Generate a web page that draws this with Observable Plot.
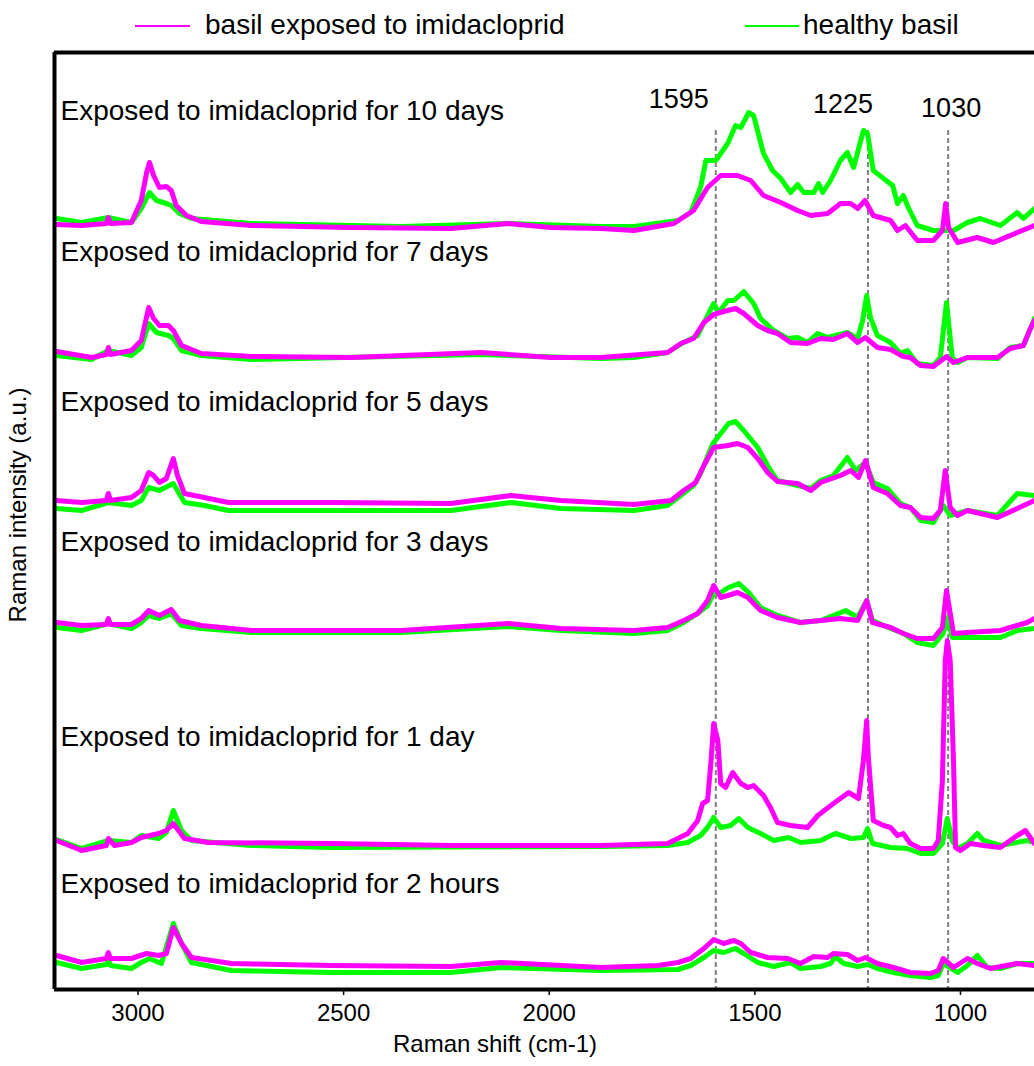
<!DOCTYPE html>
<html>
<head>
<meta charset="utf-8">
<script src="https://cdn.jsdelivr.net/npm/d3@7"></script>
<script src="https://cdn.jsdelivr.net/npm/@observablehq/plot@0.6"></script>
<style>
  html, body { margin: 0; padding: 0; background: #fff; }
  #page { position: relative; width: 1034px; height: 1066px; overflow: hidden; font-family: "Liberation Sans", Arial, sans-serif; }
  #legend { position: absolute; left: 0; top: 0; width: 1034px; height: 46px; }
  .lg-line { position: absolute; height: 2px; top: 25px; }
  .lg-text { position: absolute; top: 11px; font-size: 28px; line-height: 28px; color: #000; white-space: nowrap; }
  #chart { position: absolute; left: 0; top: 46px; }
  #xtitle { position: absolute; left: 0; width: 990px; top: 1032px; text-align: center; font-size: 24px; line-height: 24px; }
</style>
</head>
<body>
<div id="page">
  <div id="legend"></div>
  <div id="chart"></div>
  <div id="xtitle"></div>
</div>
<script>
// ---------- data ----------
const seriesNames = ["basil exposed to imidacloprid", "healthy basil"];
const seriesColors = ["#ff00ff", "#00ff00"];
const panelLabels = [
  "Exposed to imidacloprid for 10 days",
  "Exposed to imidacloprid for 7 days",
  "Exposed to imidacloprid for 5 days",
  "Exposed to imidacloprid for 3 days",
  "Exposed to imidacloprid for 1 day",
  "Exposed to imidacloprid for 2 hours"
];
const labelLevel = [878, 737, 587, 447, 252, 105];
const peaks = [1595, 1225, 1030];
const xTicks = [3000, 2500, 2000, 1500, 1000];
const xTitle = "Raman shift (cm-1)";
const yTitle = "Raman intensity (a.u.)";

// [Raman shift (cm-1), intensity (a.u., stacked)]
const exposed10 = [[3198,765],[3137,764],[3077,766],[3072,772],[3067,766],[3016,767],[2992,789],[2979,817],[2972,827],[2962,814],[2948,802],[2931,803],[2919,799],[2907,784],[2882,774],[2846,768],[2724,764],[2482,762],[2239,761],[2100,766],[1996,762],[1874,761],[1794,759],[1697,766],[1649,779],[1615,802],[1583,814],[1542,814],[1510,809],[1479,794],[1437,787],[1396,779],[1364,774],[1323,776],[1292,786],[1267,786],[1250,781],[1232,789],[1212,774],[1170,769],[1153,759],[1134,764],[1105,749],[1066,749],[1044,759],[1036,786],[1029,762],[1007,747],[959,752],[920,747],[862,757],[820,764]];
const healthy10 = [[3198,771],[3137,767],[3072,772],[3016,767],[2992,781],[2972,797],[2955,789],[2931,786],[2919,784],[2899,776],[2870,771],[2724,766],[2360,763],[2100,766],[1874,763],[1794,763],[1687,769],[1656,777],[1632,802],[1619,829],[1595,829],[1566,846],[1547,864],[1534,862],[1515,877],[1503,874],[1479,836],[1457,819],[1437,811],[1413,797],[1396,805],[1381,797],[1357,797],[1345,806],[1335,797],[1316,809],[1292,829],[1275,837],[1260,822],[1236,859],[1226,856],[1212,819],[1187,811],[1165,804],[1153,786],[1139,794],[1127,782],[1105,764],[1066,759],[1017,759],[983,767],[952,771],[903,764],[862,777],[847,771],[820,781]];

const exposed7 = [[3198,638],[3113,632],[3077,635],[3072,642],[3067,635],[3016,639],[2992,649],[2974,682],[2962,671],[2948,664],[2926,664],[2914,659],[2894,644],[2846,636],[2724,633],[2482,632],[2166,637],[1996,632],[1874,632],[1712,637],[1680,646],[1649,651],[1624,667],[1600,675],[1576,678],[1547,681],[1527,676],[1493,664],[1469,659],[1445,656],[1413,647],[1372,646],[1340,651],[1309,650],[1275,656],[1250,647],[1231,652],[1202,642],[1170,640],[1139,633],[1122,632],[1097,624],[1066,623],[1034,633],[1017,627],[983,632],[910,632],[879,641],[847,644],[830,661],[820,669]];
const healthy7 = [[3198,634],[3113,630],[3072,639],[3016,634],[2992,642],[2974,666],[2955,657],[2926,654],[2914,651],[2894,639],[2846,634],[2724,630],[2166,635],[1874,631],[1794,632],[1712,637],[1673,647],[1639,654],[1615,674],[1600,686],[1588,677],[1566,689],[1551,689],[1527,698],[1503,686],[1486,671],[1454,659],[1420,651],[1396,652],[1372,647],[1347,656],[1323,652],[1275,657],[1250,651],[1238,669],[1228,694],[1219,672],[1202,654],[1170,647],[1146,636],[1129,639],[1105,626],[1066,624],[1049,632],[1034,687],[1020,632],[1007,627],[983,632],[910,631],[879,642],[847,644],[830,661],[820,671]];

const exposed5 = [[3198,489],[3137,487],[3077,489],[3072,496],[3067,489],[3016,492],[2992,499],[2974,517],[2962,514],[2948,507],[2931,511],[2914,531],[2904,514],[2887,496],[2839,492],[2780,487],[2530,487],[2239,486],[2093,494],[1972,489],[1794,485],[1704,489],[1673,499],[1644,507],[1624,524],[1600,542],[1566,544],[1542,546],[1517,542],[1493,531],[1469,517],[1445,508],[1396,506],[1364,499],[1340,507],[1292,514],[1267,519],[1248,512],[1231,529],[1212,502],[1178,496],[1146,484],[1122,482],[1097,472],[1066,471],[1049,479],[1037,519],[1025,482],[1007,474],[983,479],[910,472],[862,481],[820,489]];
const healthy5 = [[3198,481],[3137,479],[3072,487],[3016,484],[2992,489],[2974,502],[2948,499],[2914,506],[2887,487],[2839,484],[2780,479],[2530,479],[2239,479],[2093,487],[1972,481],[1794,479],[1712,484],[1680,494],[1649,504],[1632,516],[1602,546],[1583,556],[1564,566],[1547,568],[1527,559],[1493,542],[1469,524],[1445,509],[1396,504],[1364,501],[1340,509],[1309,514],[1275,532],[1255,519],[1231,527],[1212,507],[1178,501],[1146,486],[1122,482],[1097,469],[1066,467],[1042,484],[1025,474],[983,479],[910,474],[862,496],[820,494]];

const exposed3 = [[3198,367],[3137,364],[3077,365],[3072,371],[3067,365],[3016,365],[2992,371],[2974,379],[2948,374],[2919,380],[2899,369],[2846,364],[2724,359],[2360,359],[2100,366],[1972,361],[1794,359],[1712,362],[1673,369],[1639,376],[1615,389],[1600,404],[1583,392],[1566,394],[1542,397],[1517,392],[1486,379],[1445,372],[1389,367],[1340,369],[1292,371],[1250,369],[1228,389],[1214,367],[1170,362],[1139,356],[1105,351],[1066,351],[1044,362],[1034,399],[1017,356],[983,357],[903,359],[838,367],[820,371]];
const healthy3 = [[3198,362],[3137,359],[3072,366],[3016,361],[2992,367],[2974,374],[2948,371],[2919,376],[2894,364],[2846,361],[2724,357],[2360,357],[2100,363],[1972,359],[1794,356],[1712,359],[1673,367],[1639,376],[1615,384],[1600,396],[1583,397],[1564,402],[1539,406],[1515,397],[1486,382],[1445,374],[1389,367],[1340,369],[1309,374],[1279,379],[1250,372],[1228,389],[1214,369],[1170,361],[1139,356],[1105,347],[1066,344],[1042,356],[1032,372],[1020,352],[983,352],[903,352],[862,359],[820,361]];

const exposed1 = [[3198,149],[3137,139],[3077,144],[3072,151],[3057,144],[3016,147],[2992,152],[2950,156],[2931,159],[2914,166],[2887,151],[2829,147],[2530,146],[2239,144],[1874,144],[1712,146],[1663,156],[1639,169],[1627,186],[1615,189],[1607,226],[1600,266],[1590,249],[1583,206],[1571,202],[1554,217],[1534,206],[1517,202],[1503,204],[1479,194],[1462,182],[1445,167],[1413,164],[1372,162],[1347,174],[1309,186],[1272,197],[1248,191],[1236,229],[1228,269],[1224,232],[1212,169],[1187,164],[1170,162],[1153,154],[1139,156],[1122,146],[1097,141],[1066,141],[1054,149],[1044,209],[1037,329],[1032,349],[1025,329],[1017,229],[1012,142],[1000,139],[976,146],[944,144],[903,142],[862,154],[842,159],[820,146]];
const healthy1 = [[3198,150],[3137,141],[3072,149],[3016,147],[2992,154],[2950,151],[2931,157],[2914,179],[2894,159],[2870,149],[2724,144],[2530,142],[1874,143],[1712,144],[1663,147],[1632,154],[1615,162],[1600,172],[1583,162],[1559,164],[1539,171],[1517,162],[1486,156],[1454,149],[1418,152],[1389,147],[1340,149],[1304,156],[1267,151],[1236,152],[1226,161],[1214,146],[1170,142],[1129,141],[1097,136],[1066,136],[1044,146],[1032,171],[1020,149],[1007,141],[983,146],[959,156],[944,149],[903,144],[838,149],[820,147]];

const exposed2h = [[3198,34],[3137,27],[3077,31],[3072,37],[3067,31],[3016,31],[2979,36],[2950,34],[2931,36],[2914,62],[2894,46],[2870,32],[2773,26],[2530,24],[2239,23],[2117,27],[1874,22],[1736,24],[1687,27],[1656,31],[1624,41],[1600,50],[1576,46],[1551,49],[1534,46],[1510,37],[1469,32],[1420,31],[1389,26],[1357,33],[1323,32],[1309,36],[1275,35],[1250,29],[1231,32],[1202,26],[1163,22],[1122,17],[1073,16],[1054,19],[1042,31],[1017,22],[983,31],[959,26],[927,21],[862,26],[820,24]];
const healthy2h = [[3198,27],[3137,21],[3077,25],[3072,29],[3067,24],[3016,21],[2992,27],[2972,31],[2943,26],[2914,66],[2894,46],[2870,27],[2773,19],[2530,17],[2239,17],[2117,22],[1874,19],[1687,20],[1656,24],[1624,32],[1600,39],[1576,37],[1547,41],[1527,36],[1493,27],[1454,23],[1413,27],[1389,21],[1340,23],[1316,26],[1304,33],[1284,26],[1250,23],[1226,25],[1202,21],[1163,17],[1122,14],[1073,12],[1054,14],[1042,26],[1007,17],[983,24],[959,34],[935,22],[903,21],[862,26],[820,26]];

// ---------- build table ----------
const exposedSets = [exposed10, exposed7, exposed5, exposed3, exposed1, exposed2h];
const healthySets = [healthy10, healthy7, healthy5, healthy3, healthy1, healthy2h];
function toRows(sets, series) {
  const rows = [];
  sets.forEach((arr, i) => arr.forEach(([wn, v]) => rows.push({wn, v, series, panel: i})));
  return rows;
}
const exposedRows = toRows(exposedSets, seriesNames[0]);
const healthyRows = toRows(healthySets, seriesNames[1]);
const labelRows = panelLabels.map((t, i) => ({t, level: labelLevel[i]}));

// ---------- legend ----------
const legend = document.getElementById("legend");
legend.innerHTML =
  `<div class="lg-line" style="left:135px;width:55px;background:${seriesColors[0]}"></div>` +
  `<div class="lg-text" style="left:205px">${seriesNames[0]}</div>` +
  `<div class="lg-line" style="left:745px;width:54px;background:${seriesColors[1]}"></div>` +
  `<div class="lg-text" style="left:803px">${seriesNames[1]}</div>`;
document.getElementById("xtitle").textContent = xTitle;

// ---------- chart ----------
const color = {domain: seriesNames, range: seriesColors};
const chart = Plot.plot({
  width: 1034,
  height: 984,
  marginLeft: 54,
  marginRight: 0,
  marginTop: 6,
  marginBottom: 41,
  style: {fontFamily: "Liberation Sans, Arial, sans-serif", fontSize: "24px", background: "#fff", color: "#000"},
  x: {domain: [3203, 820]},
  y: {domain: [0, 937]},
  color,
  marks: [
    Plot.ruleX(peaks, {stroke: "#808080", strokeWidth: 2, strokeDasharray: "5,3", insetTop: 78}),
    Plot.line(healthyRows, {x: "wn", y: "v", z: "panel", stroke: "series", strokeWidth: 5, strokeLinejoin: "round", strokeLinecap: "round"}),
    Plot.line(exposedRows, {x: "wn", y: "v", z: "panel", stroke: "series", strokeWidth: 5, strokeLinejoin: "round", strokeLinecap: "round"}),
    Plot.text(labelRows, {frameAnchor: "left", y: "level", text: "t", textAnchor: "start", dx: 6, fontSize: 28, fill: "#000"}),
    Plot.text([peaks[0]], {x: d => d, frameAnchor: "top", text: d => String(d), dx: -37, dy: 36, fontSize: 27}),
    Plot.text([peaks[1]], {x: d => d, frameAnchor: "top", text: d => String(d), dx: -25, dy: 41, fontSize: 27}),
    Plot.text([peaks[2]], {x: d => d, frameAnchor: "top", text: d => String(d), dx: 3, dy: 45, fontSize: 27}),
    Plot.text([yTitle], {frameAnchor: "left", text: d => d, textAnchor: "middle", rotate: -90, dx: -36, dy: -16, fontSize: 24}),
    Plot.ruleY([0, 937], {stroke: "#000", strokeWidth: 4}),
    Plot.ruleX([3203], {stroke: "#000", strokeWidth: 4}),
    Plot.axisX({ticks: xTicks, tickFormat: d => String(d), tickSize: 6, tickPadding: 8, label: null, fontSize: 24, stroke: "#000", strokeWidth: 1.5}),
    Plot.axisY({ticks: [], label: null})
  ]
});
document.getElementById("chart").appendChild(chart);
</script>
</body>
</html>
